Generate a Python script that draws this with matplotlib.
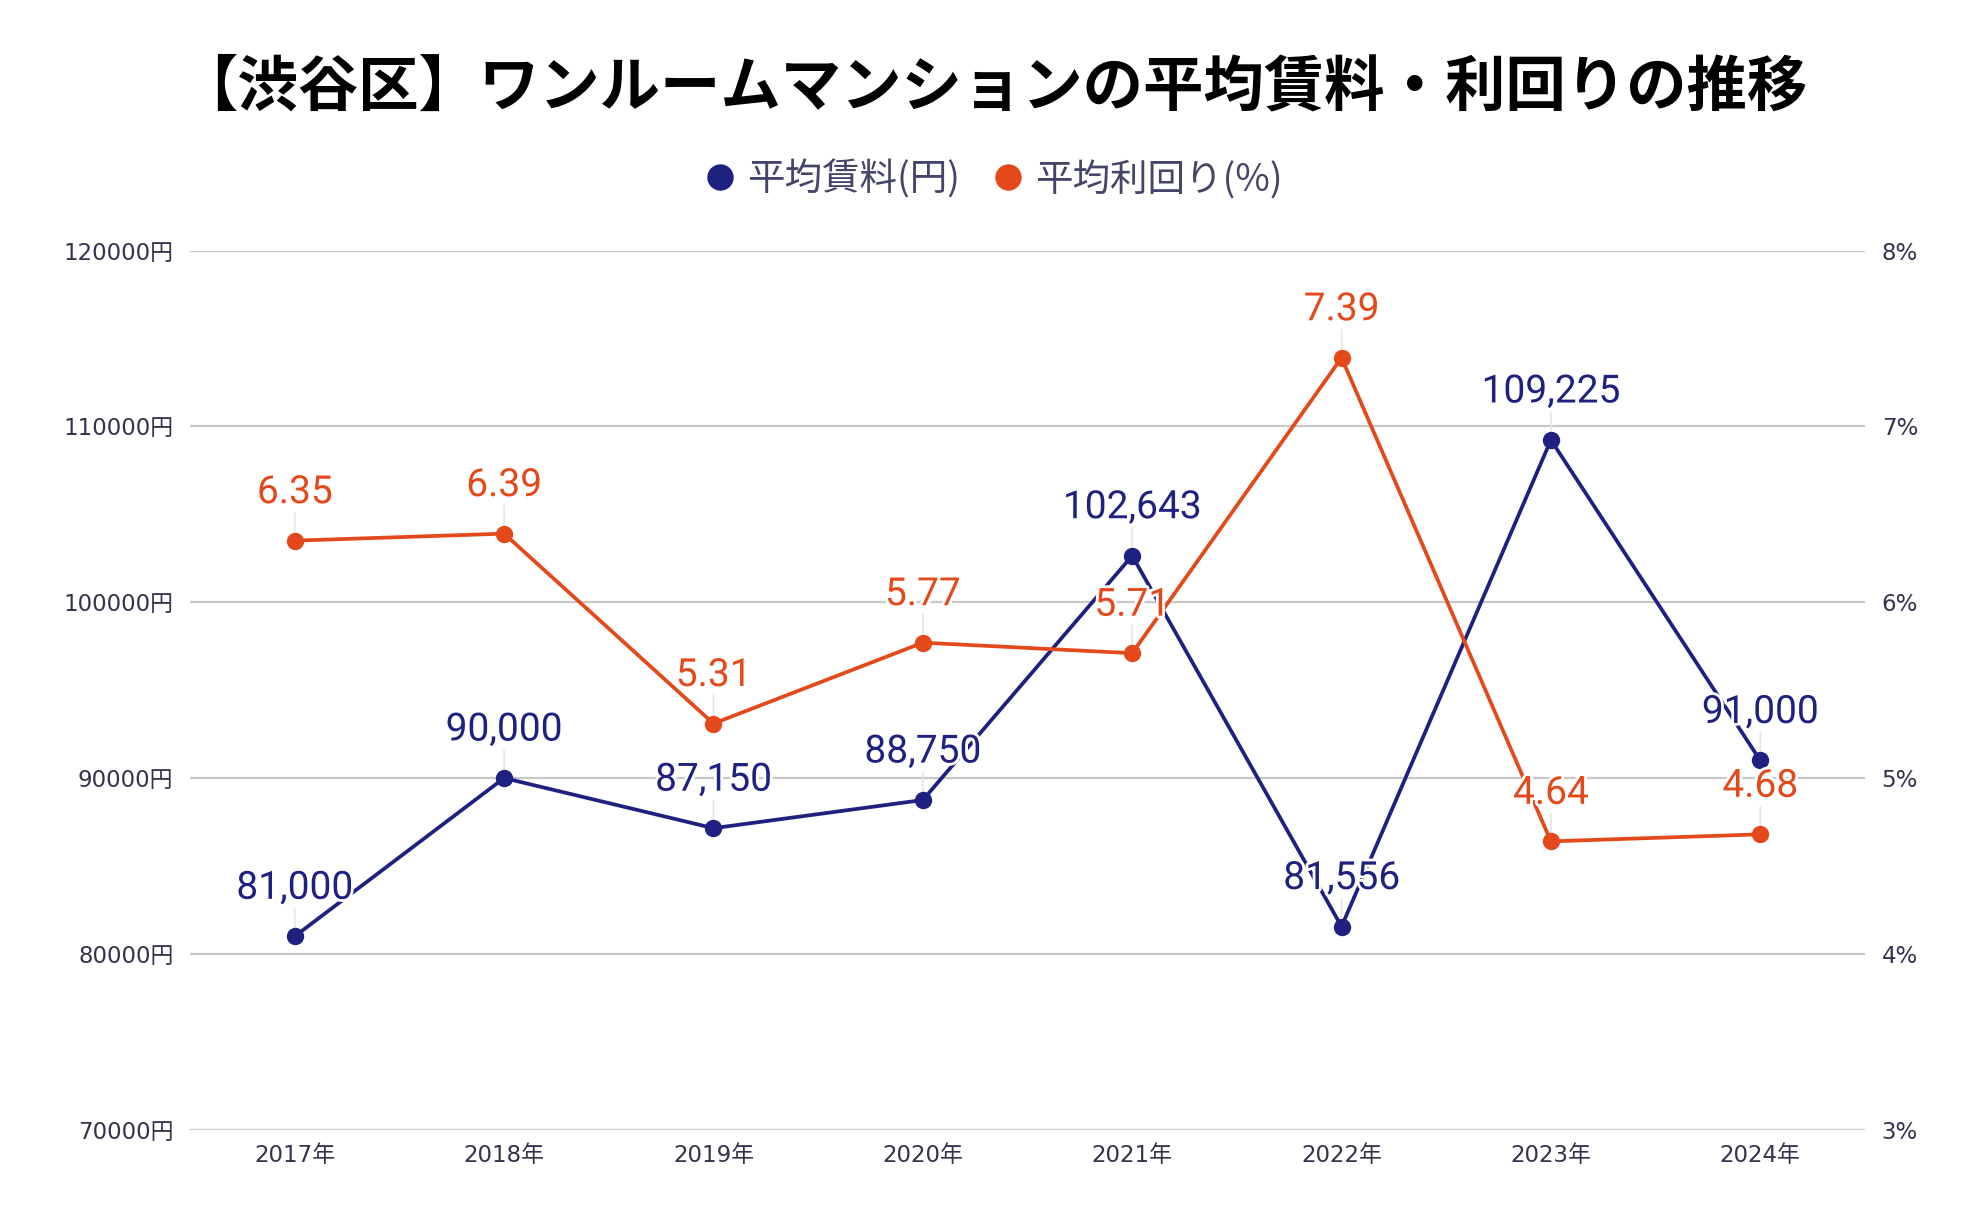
import matplotlib
matplotlib.use("Agg")
import matplotlib.pyplot as plt
import matplotlib.patheffects as pe
from matplotlib.lines import Line2D

years = ["2017", "2018", "2019", "2020", "2021", "2022", "2023", "2024"]
rent = [81000, 90000, 87150, 88750, 102643, 81556, 109225, 91000]
yield_pct = [6.35, 6.39, 5.31, 5.77, 5.71, 7.39, 4.64, 4.68]
left_ticks = [70000, 80000, 90000, 100000, 110000, 120000]
right_ticks = [3, 4, 5, 6, 7, 8]
title = "【渋谷区】ワンルームマンションの平均賃料・利回りの推移"
rent_name = "平均賃料(円)"
yield_name = "平均利回り(%)"

NAVY = "#1f2181"
ORANGE = "#e4491b"
TICKC = "#33334d"
GRID = "#c8c8c8"
CJK = "Noto Sans CJK JP"
TICKFONT = ["DejaVu Sans", CJK]

fig = plt.figure(figsize=(19.84, 12.28), dpi=100)
ax = fig.add_axes([0.0958, 0.080, 0.9400 - 0.0958, 0.796 - 0.080])
ax2 = ax.twinx()

x = list(range(len(years)))

ax.set_xlim(-0.5, len(years) - 0.5)
ax.set_ylim(left_ticks[0], left_ticks[-1])
ax2.set_ylim(right_ticks[0], right_ticks[-1])

for a in (ax, ax2):
    for s in a.spines.values():
        s.set_visible(False)
    a.tick_params(length=0)

ax.set_yticks(left_ticks)
ax.set_yticklabels([f"{v}円" for v in left_ticks], family=TICKFONT, fontsize=16.5, color=TICKC)
ax.tick_params(axis="y", pad=12)
ax2.set_yticks(right_ticks)
ax2.set_yticklabels([f"{v}%" for v in right_ticks], family=TICKFONT, fontsize=16.5, color=TICKC)
ax2.tick_params(axis="y", pad=12)
ax.set_xticks(x)
ax.set_xticklabels([f"{y}年" for y in years], family=TICKFONT, fontsize=16.5, color=TICKC)
ax.tick_params(axis="x", pad=10)
ax.grid(axis="y", color=GRID, linewidth=1.6)
ax.set_axisbelow(True)

ax.plot(x, rent, color=NAVY, linewidth=2.7, marker="o", markersize=11.5, zorder=3)
ax2.plot(x, yield_pct, color=ORANGE, linewidth=2.7, marker="o", markersize=11.5, zorder=3)

halo = [pe.withStroke(linewidth=4, foreground="white")]
for xi, v in zip(x, rent):
    ax.annotate(f"{v:,}", xy=(xi, v), xytext=(0, 48), textcoords="offset pixels",
                ha="center", va="center", fontsize=28, family="Roboto", color=NAVY,
                path_effects=halo, zorder=6)
    ax.annotate("", xy=(xi, v), xytext=(0, 28), textcoords="offset pixels",
                arrowprops=dict(arrowstyle="-", color="#e6e6e6", lw=1.2, shrinkA=0, shrinkB=6), zorder=2)
for xi, v in zip(x, yield_pct):
    ax2.annotate(f"{v:.2f}", xy=(xi, v), xytext=(0, 48), textcoords="offset pixels",
                 ha="center", va="center", fontsize=28, family="Roboto", color=ORANGE,
                 path_effects=halo, zorder=6)
    ax2.annotate("", xy=(xi, v), xytext=(0, 28), textcoords="offset pixels",
                 arrowprops=dict(arrowstyle="-", color="#e6e6e6", lw=1.2, shrinkA=0, shrinkB=6), zorder=2)

fig.text(0.5, 1 - 88 / 1228, title, ha="center", va="center", fontsize=43.5,
         fontweight="bold", family=CJK, color="black")

handles = [Line2D([], [], linestyle="none", marker="o", markersize=18, color=NAVY),
           Line2D([], [], linestyle="none", marker="o", markersize=18, color=ORANGE)]
leg = fig.legend(handles, [rent_name, yield_name], loc="center", ncol=2,
                 bbox_to_anchor=(0.5, 1 - 180 / 1228), frameon=False,
                 prop={"family": CJK, "size": 27}, handletextpad=0.2,
                 columnspacing=0.8, handlelength=1.0)
for t in leg.get_texts():
    t.set_color("#45456a")

fig.savefig("out.png", dpi=100, facecolor="white")
